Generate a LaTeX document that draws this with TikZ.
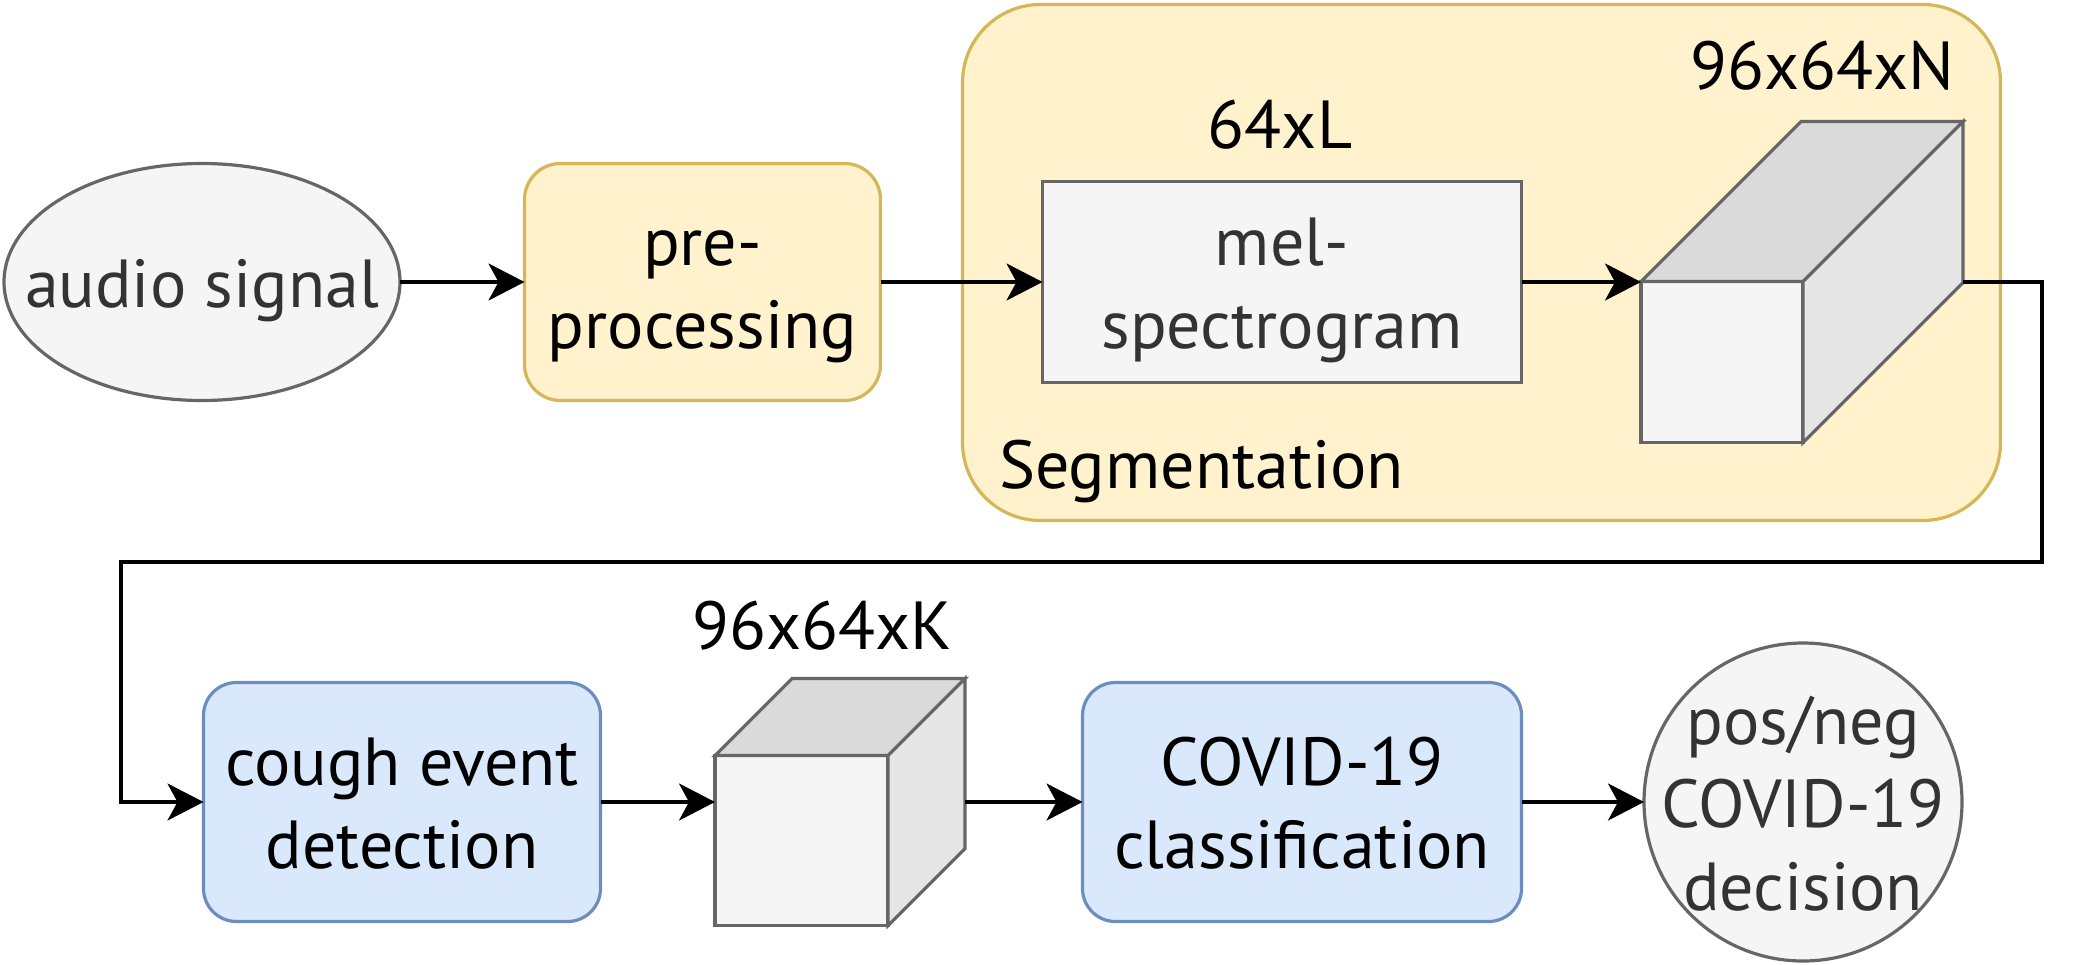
\documentclass[tikz,border=0pt]{standalone}
\usepackage{fontspec}
\setmainfont{PT Sans}
\usepackage{tikz}
\usetikzlibrary{positioning, arrows.meta, calc, shapes.geometric}

\definecolor{yellowfill}{HTML}{FFF2CC}
\definecolor{yellowline}{HTML}{D6B656}
\definecolor{bluefill}{HTML}{DAE8FC}
\definecolor{blueline}{HTML}{6C8EBF}
\definecolor{greyfill}{HTML}{F5F5F5}
\definecolor{greyline}{HTML}{666666}
\definecolor{greytext}{HTML}{333333}
\definecolor{cubetop}{HTML}{DADADA}
\definecolor{cubeside}{HTML}{E6E6E6}

% fixed line height for the node texts
\newcommand{\ls}{\rule[-16pt]{0pt}{82pt}}

\tikzset{
    txt/.style={font=\fontsize{68pt}{81pt}\selectfont, align=center, inner sep=0pt, outer sep=0pt},
    yellowbox/.style={txt, draw=yellowline, fill=yellowfill, line width=3.2pt, rounded corners=36pt},
    segframe/.style={draw=yellowline, fill=yellowfill, line width=3.2pt, rounded corners=78pt, inner sep=0pt},
    bluebox/.style={txt, draw=blueline, fill=bluefill, line width=3.2pt, rounded corners=33pt},
    greybox/.style={txt, draw=greyline, fill=greyfill, line width=3.2pt, text=greytext},
    greyoval/.style={greybox, ellipse, inner xsep=-60pt, inner ysep=-20pt},
    dimlabel/.style={txt, anchor=base},
    cubeline/.style={draw=greyline, line width=3.2pt, line join=miter},
    cubebbox/.style={inner sep=0pt, outer sep=0pt},
    flow/.style={line width=3.6pt, -{Stealth[length=36pt, width=37pt, inset=10pt]}}
}

% name, left x, top y, width, height, depth of the front face
\newcommand{\drawcube}[6]{%
    % front
    \draw[cubeline, fill=greyfill] (#2,#3) rectangle ++(#4,#5);
    % top
    \draw[cubeline, fill=cubetop] (#2,#3) -- ++(#6,-#6) -- ++(#4,0) -- ++(-#6,#6) -- cycle;
    % side
    \draw[cubeline, fill=cubeside] (#2+#4,#3) -- ++(#6,-#6) -- ++(0,#5) -- ++(-#6,#6) -- cycle;
    \node[cubebbox, minimum width={(#4+#6)*1pt}, minimum height={(#5+#6)*1pt}]
        (#1) at ({#2+(#4+#6)/2}, {#3+(#5-#6)/2}) {};
}

\begin{document}
\begin{tikzpicture}[x=1pt, y=-1pt]
    \useasboundingbox (0,0) rectangle (2076,964);

    % segmentation block
    \node[segframe, minimum width=1038pt, minimum height=516pt] (seg) at (1481.5,262.5) {};
    \node[dimlabel, anchor=base west] (segname) at (999,488) {Segmentation};

    % upper row
    \node[greyoval, minimum width=396pt, minimum height=237pt] (audio) at (202,282) {\ls audio signal};
    \node[yellowbox, minimum width=356pt, minimum height=237pt] (pre) at (702.5,282) {\ls pre-\\\ls processing};
    \node[greybox, minimum width=479pt, minimum height=201pt] (mel) at (1282,282) {\ls mel-\\\ls spectrogram};
    \node[dimlabel] (melsize) at (1280,148) {64xL};
    \drawcube{cubeN}{1641}{281.5}{162}{161}{160}
    \node[dimlabel] (cubeNsize) at (1822,89) {96x64xN};

    % lower row
    \node[bluebox, minimum width=397pt, minimum height=239pt] (cough) at (402,802) {\ls cough event\\\ls detection};
    \drawcube{cubeK}{715}{755.5}{173}{170}{77}
    \node[dimlabel] (cubeKsize) at (822,649) {96x64xK};
    \node[bluebox, minimum width=439pt, minimum height=239pt] (covid) at (1302,802) {\ls COVID-19\\\ls classification};
    \node[greyoval, minimum width=318pt, minimum height=318pt, font=\fontsize{68pt}{73pt}\selectfont]
        (decision) at (1803,802) {\ls pos/neg\\\ls COVID-19\\\ls decision};

    % arrows
    \foreach \from/\to in {audio/pre, pre/mel, mel/cubeN, cough/cubeK, cubeK/covid, covid/decision}
    {
        \draw[flow] (\from.east) -- (\to.west);
    }

    \coordinate (turnR) at (2042,562);
    \coordinate (turnL) at (121,562);
    \draw[flow] (cubeN.east) -| (turnR) -- (turnL) |- (cough.west);
\end{tikzpicture}
\end{document}
